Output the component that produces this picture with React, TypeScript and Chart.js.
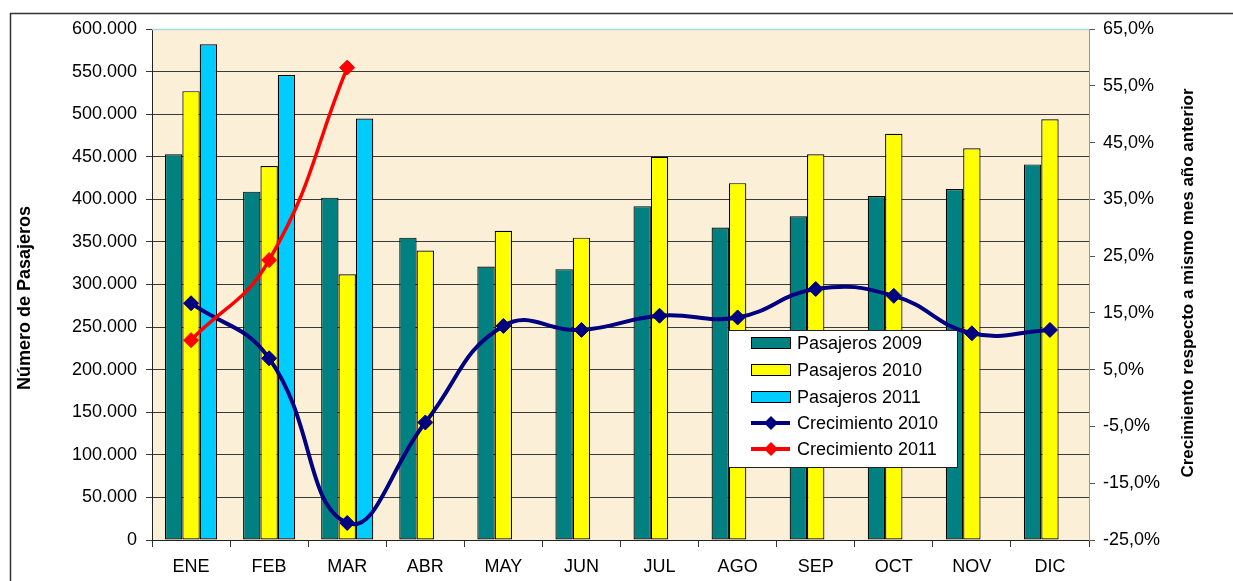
import React, { useEffect, useRef } from "react";
import { Chart, registerables } from "chart.js";

Chart.register(...registerables);

const months = ["ENE", "FEB", "MAR", "ABR", "MAY", "JUN", "JUL", "AGO", "SEP", "OCT", "NOV", "DIC"];
const pasajeros2009 = [453000, 409000, 402000, 355000, 321000, 318000, 392000, 367000, 380000, 404000, 412000, 441000];
const pasajeros2010 = [527000, 439000, 312000, 340000, 363000, 355000, 450000, 419000, 453000, 477000, 460000, 494000];
const pasajeros2011 = [582000, 546000, 495000, null, null, null, null, null, null, null, null, null];
const crecimiento2010 = [16.7, 7.0, -22.0, -4.3, 12.7, 12.0, 14.5, 14.2, 19.2, 18.0, 11.4, 12.0];
const crecimiento2011 = [10.2, 24.3, 58.2, null, null, null, null, null, null, null, null, null];

const leftTitle = "Número de Pasajeros";
const rightTitle = "Crecimiento respecto a mismo mes año anterior";

const FONT = "'Liberation Sans', Arial, sans-serif";

const fmtThousands = (v: number) => String(Math.round(v)).replace(/\B(?=(\d{3})+(?!\d))/g, ".");
const fmtPct = (v: number) => v.toFixed(1).replace(".", ",") + "%";

const decorPlugin = {
  id: "decor",
  beforeDraw(chart: any) {
    const { ctx, chartArea: a, width, height } = chart;
    ctx.save();
    ctx.fillStyle = "#ffffff";
    ctx.fillRect(0, 0, width, height);
    ctx.strokeStyle = "#333333";
    ctx.lineWidth = 1.5;
    ctx.strokeRect(10.5, 13.5, width + 20, height + 20);
    ctx.fillStyle = "#fcefd8";
    ctx.fillRect(a.left, a.top, a.right - a.left, a.bottom - a.top);
    ctx.restore();
  },
  afterDraw(chart: any) {
    const { ctx, chartArea: a } = chart;
    ctx.save();
    ctx.strokeStyle = "#a8dcdc";
    ctx.lineWidth = 1.5;
    ctx.beginPath();
    ctx.moveTo(a.left, a.top + 0.5);
    ctx.lineTo(a.right, a.top + 0.5);
    ctx.stroke();

    ctx.fillStyle = "#000";
    ctx.textAlign = "center";
    ctx.textBaseline = "middle";
    ctx.font = `bold 18px ${FONT}`;
    ctx.save();
    ctx.translate(25, 298);
    ctx.rotate(-Math.PI / 2);
    ctx.fillText(leftTitle, 0, 0);
    ctx.restore();
    ctx.font = `bold 17px ${FONT}`;
    ctx.save();
    ctx.translate(1188, 283);
    ctx.rotate(-Math.PI / 2);
    ctx.fillText(rightTitle, 0, 0);
    ctx.restore();

    const lx = 728, ly = 330, lw = 229, lh = 137;
    ctx.fillStyle = "#ffffff";
    ctx.fillRect(lx, ly, lw, lh);
    ctx.strokeStyle = "#222";
    ctx.lineWidth = 1;
    ctx.strokeRect(lx + 0.5, ly + 0.5, lw, lh);
    const rows = [343, 370, 397, 423, 449];
    chart.data.datasets.forEach((ds: any, i: number) => {
      const cy = rows[i];
      if (ds.type === "line") {
        ctx.strokeStyle = ds.borderColor;
        ctx.lineWidth = 4;
        ctx.beginPath();
        ctx.moveTo(751, cy);
        ctx.lineTo(790, cy);
        ctx.stroke();
        ctx.fillStyle = ds.borderColor;
        ctx.beginPath();
        ctx.moveTo(771 - 7, cy);
        ctx.lineTo(771, cy - 7);
        ctx.lineTo(771 + 7, cy);
        ctx.lineTo(771, cy + 7);
        ctx.closePath();
        ctx.fill();
      } else {
        ctx.fillStyle = ds.backgroundColor;
        ctx.fillRect(751, cy - 5.5, 39, 11);
        ctx.strokeStyle = "#000";
        ctx.lineWidth = 1;
        ctx.strokeRect(751.5, cy - 5.5, 39, 11);
      }
      ctx.fillStyle = "#000";
      ctx.font = `18px ${FONT}`;
      ctx.textAlign = "left";
      ctx.textBaseline = "middle";
      ctx.fillText(ds.label, 797, cy + 1);
    });
    ctx.restore();
  },
};

export default function App() {
  const ref = useRef<HTMLCanvasElement | null>(null);
  useEffect(() => {
    if (!ref.current) return;
    const barCommon = { borderColor: "#000", borderWidth: 1.2, borderSkipped: false, yAxisID: "y", order: 2 };
    const chart = new Chart(ref.current, {
      type: "bar",
      data: {
        labels: months,
        datasets: [
          { type: "bar", label: "Pasajeros 2009", data: pasajeros2009, backgroundColor: "#008080", ...barCommon },
          { type: "bar", label: "Pasajeros 2010", data: pasajeros2010, backgroundColor: "#ffff00", ...barCommon },
          { type: "bar", label: "Pasajeros 2011", data: pasajeros2011, backgroundColor: "#00ccff", ...barCommon },
          { type: "line", label: "Crecimiento 2010", data: crecimiento2010, borderColor: "#000080", backgroundColor: "#000080", borderWidth: 4, tension: 0.45, pointStyle: "rectRot", pointRadius: 7.5, pointBorderWidth: 1, pointBackgroundColor: "#000080", pointBorderColor: "#000080", yAxisID: "y1", order: 1 },
          { type: "line", label: "Crecimiento 2011", data: crecimiento2011, borderColor: "#ff0000", backgroundColor: "#ff0000", borderWidth: 3.5, tension: 0.45, pointStyle: "rectRot", pointRadius: 7.5, pointBorderWidth: 1, pointBackgroundColor: "#ff0000", pointBorderColor: "#ff0000", yAxisID: "y1", order: 0 },
        ] as any,
      },
      options: {
        responsive: false,
        animation: false,
        layout: { padding: { top: 29, left: 0, right: 0, bottom: 0 } },
        datasets: { bar: { categoryPercentage: 0.667, barPercentage: 1 } },
        plugins: { legend: { display: false }, tooltip: { enabled: false } },
        scales: {
          x: {
            type: "category",
            offset: true,
            grid: { offset: true, drawOnChartArea: false, tickLength: 7, color: "#333", lineWidth: 1 },
            border: { color: "#222", width: 1 },
            ticks: { color: "#000", font: { family: FONT, size: 18 }, padding: 9, maxRotation: 0 },
            afterFit: (s: any) => { s.height = 41; },
          },
          y: {
            position: "left",
            min: 0,
            max: 600000,
            ticks: { stepSize: 50000, color: "#000", font: { family: FONT, size: 18 }, padding: 9, callback: (v: any) => fmtThousands(Number(v)) },
            grid: { color: "#3a3a3a", lineWidth: 1, tickLength: 6 },
            border: { color: "#222", width: 1 },
            afterFit: (s: any) => { s.width = 152; },
          },
          y1: {
            position: "right",
            min: -25,
            max: 65,
            ticks: { stepSize: 10, color: "#000", font: { family: FONT, size: 18 }, padding: 8, callback: (v: any) => fmtPct(Number(v)) },
            grid: { drawOnChartArea: false, color: "#555", tickLength: 6 },
            border: { color: "#8a98a8", width: 1 },
            afterFit: (s: any) => { s.width = 144; },
          },
        },
      } as any,
      plugins: [decorPlugin],
    });
    return () => chart.destroy();
  }, []);
  return (
    <div style={{ position: "fixed", left: 0, top: 0, width: 1233, height: 581 }}>
      <canvas ref={ref} width={1233} height={581} style={{ display: "block" }} />
    </div>
  );
}
